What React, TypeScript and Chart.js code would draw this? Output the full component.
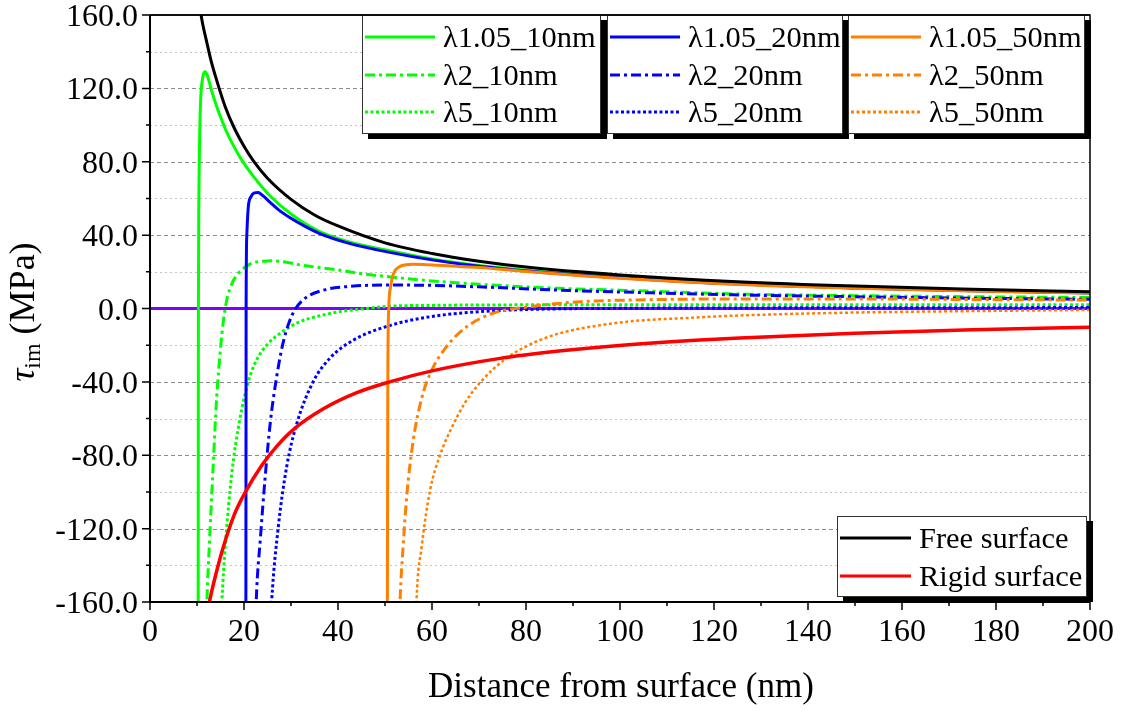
import React, { useEffect, useRef } from 'react';
import { Chart, registerables } from 'chart.js';

Chart.register(...registerables);

const FONT = "'Liberation Serif', 'Times New Roman', serif";

// ---------- axis ticks ----------
const xTickValues = [0, 20, 40, 60, 80, 100, 120, 140, 160, 180, 200];
const xMinorTickValues = [10, 30, 50, 70, 90, 110, 130, 150, 170, 190];
const yTickValues = [-160, -120, -80, -40, 0, 40, 80, 120, 160];
const yMinorTickValues = [-140, -100, -60, -20, 20, 60, 100, 140];
const yTickLabels = ['-160.0', '-120.0', '-80.0', '-40.0', '0.0', '40.0', '80.0', '120.0', '160.0'];

// ---------- series data ----------
const zeroX = [0, 200];
const zeroY = [0, 0];

const g105X = [10.25, 10.3, 10.4, 10.6, 10.8, 11.0, 11.3, 11.7, 12.1, 12.6, 13.2, 14, 15, 16, 17.5, 19.5, 22, 25.5, 30, 36, 42, 51, 60, 70, 80, 100, 125, 150, 175, 200];
const g105Y = [-170, 0, 60, 98, 115, 122, 127, 129, 127.8, 123.5, 118, 111.5, 104.5, 98, 90, 81, 72, 61.5, 51.5, 42, 36.5, 31.5, 27, 23.4, 20.8, 17, 13.5, 11.3, 9.8, 8.6];

const g2X = [12.0, 12.1, 12.7, 13.4, 14.2, 15.0, 15.6, 16.2, 16.9, 17.8, 18.8, 20.5, 22, 24, 26, 29, 32, 36, 40, 45, 50, 60, 70, 87, 100, 125, 150, 175, 200];
const g2Y = [-170, -160, -125, -88, -48, -22, -7, 3, 10, 15.5, 19.2, 23, 25, 25.8, 26, 25.2, 23.7, 22.3, 21, 19, 17.5, 15, 13.2, 11, 10, 7.9, 7, 6.4, 6.0];

const g5X = [15.1, 15.3, 16, 17.4, 19, 20.9, 22.7, 25, 27.7, 31.9, 36.9, 40.4, 44, 51, 60, 80, 100, 125, 150, 175, 200];
const g5Y = [-170, -159, -130, -90, -62, -40, -28, -19.5, -13.5, -7.2, -3.5, -1.7, -0.6, 1.2, 1.7, 2, 2.1, 2.1, 2.1, 2.0, 2.0];

const b105X = [20.4, 20.45, 20.6, 20.9, 21.5, 22.2, 23, 24, 25.5, 27.5, 29.8, 33, 36, 42, 51, 60, 70, 80, 100, 125, 150, 175, 200];
const b105Y = [-170, 0, 40, 55, 61, 63, 63.2, 61.5, 58, 53.5, 49.5, 44.8, 41, 35.8, 30.6, 26.5, 23, 20.5, 16.8, 13.3, 11.2, 9.7, 8.5];

const b2X = [22.5, 22.6, 23.5, 24.5, 25.6, 26.9, 28.2, 29.6, 31, 32.5, 34, 36.9, 39, 41.8, 45, 51, 60, 70, 87, 100, 125, 150, 175, 200];
const b2Y = [-170, -160, -125, -92, -62, -38, -20, -7.5, 0, 4.5, 7.3, 10, 11.2, 11.9, 12.5, 12.8, 12.6, 11.8, 10, 9, 7.4, 6.4, 5.6, 5.0];

const b5X = [25.7, 25.9, 27.3, 29.1, 31.2, 34.7, 38.3, 43.3, 51, 59.6, 70.2, 80.9, 100, 125, 150, 200];
const b5Y = [-170, -159, -119, -86, -63, -40, -27, -17.2, -9.3, -4.5, -1.7, -0.5, 0.1, 0.3, 0.4, 0.5];

const o105X = [50.5, 50.6, 50.8, 51.2, 51.8, 53, 54.5, 56, 58, 61, 66.6, 70, 80, 100, 125.5, 150, 175, 200];
const o105Y = [-170, -40, 0, 12, 19, 22.6, 23.8, 24.1, 24, 23.6, 22.8, 22.4, 20.2, 16.5, 13.1, 11.1, 9.6, 8.4];

const o2X = [53.1, 53.2, 53.9, 54.6, 56, 57.8, 59.6, 63.1, 67.4, 73, 80.9, 91.5, 100, 125.5, 150, 175, 200];
const o2Y = [-170, -160, -128, -103, -72, -49, -35.5, -20.8, -9.9, -2.6, 1, 3.7, 4.5, 5.2, 5.2, 4.9, 4.6];

const o5X = [56.6, 56.7, 57.8, 59.6, 61.7, 64, 67, 70.2, 75.9, 84.4, 98.6, 117, 125.5, 150, 175, 200];
const o5Y = [-170, -160, -130, -99, -80, -66, -51.5, -40.5, -27, -15.8, -8.1, -4.8, -3.8, -2.2, -1.4, -0.8];

const freeX = [10.6, 11, 12, 13, 14, 16, 18, 20, 22, 25, 30, 35, 40, 50, 60, 70, 80, 100, 125, 150, 175, 200];
const freeY = [165, 158, 146, 135, 126, 110, 98, 88.5, 80.5, 71, 59.5, 51, 45, 35.8, 30, 25.8, 22.6, 18.3, 14.6, 12.2, 10.5, 9.1];

const rigidX = [11.9, 12.8, 14, 15.6, 18, 20.2, 23.8, 27, 30.5, 36.9, 44, 51, 60, 74.5, 87, 98.6, 117, 125.5, 150, 175, 200];
const rigidY = [-170, -158, -145, -130, -112, -100.5, -85.5, -75, -66, -54.7, -45.9, -40, -34, -27.2, -23.2, -20.4, -17.2, -16.1, -13.5, -11.6, -10.2];

// ---------- styles ----------
const GREEN = '#00ff00';
const BLUE = '#0000ff';
const ORANGE = '#ff8000';
const RED = '#ff0000';
const BLACK = '#000000';
const PURPLE = '#8000ff';
const DASH_DOT = [10, 4, 3, 4];
const DOT = [3, 2.5];
const SOLID: number[] = [];

type Series = { label: string; xs: number[]; ys: number[]; color: string; dash: number[]; width: number };

const series: Series[] = [
  { label: '', xs: zeroX, ys: zeroY, color: PURPLE, dash: SOLID, width: 3 },
  { label: 'λ1.05_10nm', xs: g105X, ys: g105Y, color: GREEN, dash: SOLID, width: 3 },
  { label: 'λ2_10nm', xs: g2X, ys: g2Y, color: GREEN, dash: DASH_DOT, width: 3 },
  { label: 'λ5_10nm', xs: g5X, ys: g5Y, color: GREEN, dash: DOT, width: 3 },
  { label: 'λ1.05_20nm', xs: b105X, ys: b105Y, color: BLUE, dash: SOLID, width: 3 },
  { label: 'λ2_20nm', xs: b2X, ys: b2Y, color: BLUE, dash: DASH_DOT, width: 3 },
  { label: 'λ5_20nm', xs: b5X, ys: b5Y, color: BLUE, dash: DOT, width: 3 },
  { label: 'λ1.05_50nm', xs: o105X, ys: o105Y, color: ORANGE, dash: SOLID, width: 3 },
  { label: 'λ2_50nm', xs: o2X, ys: o2Y, color: ORANGE, dash: DASH_DOT, width: 3 },
  { label: 'λ5_50nm', xs: o5X, ys: o5Y, color: ORANGE, dash: DOT, width: 2.5 },
  { label: 'Free surface', xs: freeX, ys: freeY, color: BLACK, dash: SOLID, width: 3 },
  { label: 'Rigid surface', xs: rigidX, ys: rigidY, color: RED, dash: SOLID, width: 3.5 },
];

// legend groups: indices into series
const topLegendGroups = [[1, 2, 3], [4, 5, 6], [7, 8, 9]];
const bottomLegendGroup = [10, 11];

function drawLegendFrame(ctx: CanvasRenderingContext2D, x: number, y: number, w: number, h: number) {
  ctx.fillStyle = '#000';
  ctx.fillRect(x + 6, y + 5, w, h);
  ctx.fillStyle = '#fff';
  ctx.fillRect(x, y, w, h);
  ctx.strokeStyle = '#333';
  ctx.lineWidth = 1;
  ctx.setLineDash([]);
  ctx.strokeRect(x + 0.5, y + 0.5, w - 1, h - 1);
}

function drawLegendEntry(ctx: CanvasRenderingContext2D, s: Series, x: number, y: number, lineLen: number, textGap: number) {
  ctx.save();
  ctx.strokeStyle = s.color;
  ctx.lineWidth = 3;
  ctx.setLineDash(s.dash);
  ctx.beginPath();
  ctx.moveTo(x, y);
  ctx.lineTo(x + lineLen, y);
  ctx.stroke();
  ctx.setLineDash([]);
  ctx.fillStyle = '#000';
  ctx.font = `29px ${FONT}`;
  ctx.textAlign = 'left';
  ctx.textBaseline = 'alphabetic';
  ctx.translate(x + lineLen + textGap, y + 10);
  ctx.scale(1.05, 1);
  ctx.fillText(s.label, 0, 0);
  ctx.restore();
}

const axesPlugin = {
  id: 'originAxes',
  beforeDatasetsDraw(chart: any) {
    const { ctx, chartArea: a, scales } = chart;
    const ys = scales.y;
    ctx.save();
    ctx.lineWidth = 1;
    for (const v of [...yTickValues, ...yMinorTickValues]) {
      if (v === -160 || v === 160 || v === 0) continue;
      const py = Math.round(ys.getPixelForValue(v)) + 0.5;
      const major = v % 40 === 0;
      ctx.strokeStyle = major ? '#8c8c8c' : '#c4c4c4';
      ctx.setLineDash(major ? [4, 3] : [2, 3]);
      ctx.beginPath();
      ctx.moveTo(a.left, py);
      ctx.lineTo(a.right, py);
      ctx.stroke();
    }
    ctx.restore();
  },
  afterDatasetsDraw(chart: any) {
    const { ctx, chartArea: a, scales } = chart;
    const xs = scales.x;
    const ys = scales.y;
    ctx.save();
    ctx.setLineDash([]);
    ctx.strokeStyle = '#000';
    ctx.lineWidth = 1.5;
    ctx.beginPath();
    ctx.moveTo(a.left, a.top);
    ctx.lineTo(a.right, a.top);
    ctx.lineTo(a.right, a.bottom);
    ctx.stroke();
    ctx.lineWidth = 2;
    ctx.beginPath();
    ctx.moveTo(a.left, a.top);
    ctx.lineTo(a.left, a.bottom);
    ctx.lineTo(a.right, a.bottom);
    ctx.stroke();
    ctx.lineWidth = 1.5;
    ctx.beginPath();
    for (const v of yTickValues) {
      const py = ys.getPixelForValue(v);
      ctx.moveTo(a.left - 8, py);
      ctx.lineTo(a.left, py);
    }
    for (const v of yMinorTickValues) {
      const py = ys.getPixelForValue(v);
      ctx.moveTo(a.left - 4, py);
      ctx.lineTo(a.left, py);
    }
    for (const v of xTickValues) {
      const px = xs.getPixelForValue(v);
      ctx.moveTo(px, a.bottom);
      ctx.lineTo(px, a.bottom + 8);
    }
    for (const v of xMinorTickValues) {
      const px = xs.getPixelForValue(v);
      ctx.moveTo(px, a.bottom);
      ctx.lineTo(px, a.bottom + 4);
    }
    ctx.stroke();

    ctx.fillStyle = '#000';
    ctx.font = `32px ${FONT}`;
    ctx.textBaseline = 'alphabetic';
    ctx.textAlign = 'center';
    xTickValues.forEach((v) => {
      ctx.fillText(String(v), xs.getPixelForValue(v), a.bottom + 39);
    });
    ctx.textAlign = 'right';
    yTickValues.forEach((v, i) => {
      ctx.fillText(yTickLabels[i], a.left - 12, ys.getPixelForValue(v) + 11);
    });

    ctx.textAlign = 'center';
    ctx.font = `35px ${FONT}`;
    ctx.fillText('Distance from surface (nm)', (a.left + a.right) / 2 + 1, 697);

    ctx.save();
    ctx.translate(34, 312);
    ctx.rotate(-Math.PI / 2);
    ctx.textAlign = 'left';
    ctx.font = `italic 36px ${FONT}`;
    const tauW = ctx.measureText('τ').width;
    ctx.font = `24px ${FONT}`;
    const imW = ctx.measureText('im').width;
    ctx.font = `36px ${FONT}`;
    const restW = ctx.measureText(' (MPa)').width;
    let sx = -(tauW + imW + restW) / 2;
    ctx.font = `italic 36px ${FONT}`;
    ctx.fillText('τ', sx, 0);
    sx += tauW;
    ctx.font = `24px ${FONT}`;
    ctx.fillText('im', sx, 6);
    sx += imW;
    ctx.font = `36px ${FONT}`;
    ctx.fillText(' (MPa)', sx, 0);
    ctx.restore();

    const boxes = [
      { x: 362, w: 239 },
      { x: 607, w: 236 },
      { x: 848, w: 237 },
    ];
    const rowYs = [37, 75, 112];
    boxes.forEach((b, gi) => {
      drawLegendFrame(ctx, b.x, a.top, b.w, 119);
      topLegendGroups[gi].forEach((si, ri) => {
        drawLegendEntry(ctx, series[si], b.x + 3, rowYs[ri], 70, 8);
      });
    });
    ctx.strokeStyle = '#000';
    ctx.lineWidth = 1.5;
    ctx.beginPath();
    ctx.moveTo(a.left, a.top);
    ctx.lineTo(a.right, a.top);
    ctx.stroke();

    drawLegendFrame(ctx, 837, 516, 250, 81);
    const bRows = [538, 576];
    bottomLegendGroup.forEach((si, ri) => {
      drawLegendEntry(ctx, series[si], 840, bRows[ri], 71, 8);
    });
    ctx.restore();
  },
};

export default function App() {
  const canvasRef = useRef<HTMLCanvasElement | null>(null);

  useEffect(() => {
    document.body.style.margin = '0';
    const canvas = canvasRef.current;
    if (!canvas) return;
    const chart = new Chart(canvas, {
      type: 'line',
      data: {
        datasets: series.map((s, i) => ({
          label: s.label,
          data: s.xs.map((x, k) => ({ x, y: s.ys[k] })),
          borderColor: s.color,
          backgroundColor: s.color,
          borderWidth: s.width,
          borderDash: s.dash,
          pointRadius: 0,
          pointHoverRadius: 0,
          fill: false,
          cubicInterpolationMode: 'monotone' as const,
          order: -i,
        })),
      },
      options: {
        animation: false,
        responsive: false,
        devicePixelRatio: 1,
        events: [],
        layout: { padding: { left: 150, top: 15, right: 33, bottom: 108 } },
        plugins: {
          legend: { display: false },
          tooltip: { enabled: false },
          title: { display: false },
        },
        scales: {
          x: { type: 'linear', min: 0, max: 200, display: false },
          y: { type: 'linear', min: -160, max: 160, display: false },
        },
      },
      plugins: [axesPlugin],
    });
    return () => chart.destroy();
  }, []);

  return (
    <div style={{ width: 1123, height: 710, background: '#fff' }}>
      <canvas ref={canvasRef} width={1123} height={710} style={{ display: 'block' }} />
    </div>
  );
}
